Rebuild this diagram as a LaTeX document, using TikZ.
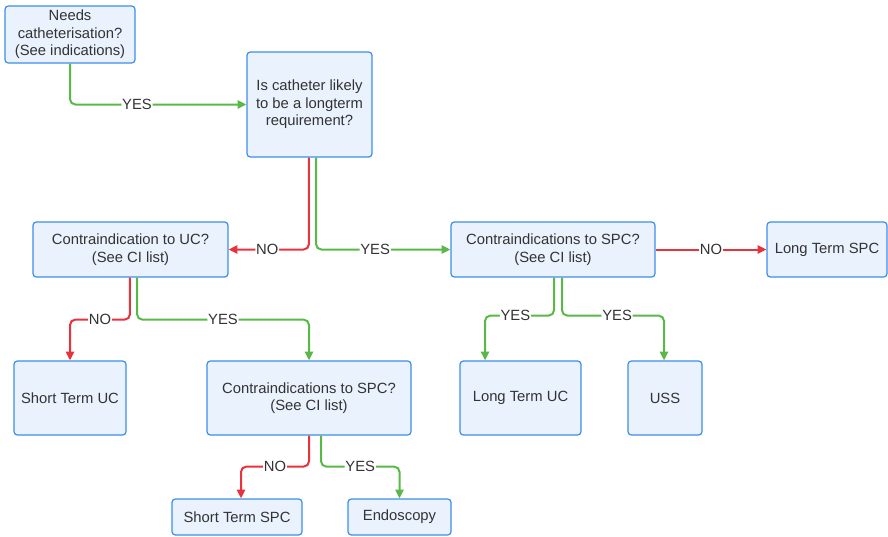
\documentclass[tikz,border=0pt]{standalone}
\usepackage{fontspec}
\setmainfont{Liberation Sans}
\usetikzlibrary{arrows.meta}
\definecolor{fillcol}{HTML}{E9F2FD}
\definecolor{bordercol}{HTML}{3D8EE8}
\definecolor{redcol}{HTML}{E8323C}
\definecolor{greencol}{HTML}{59B947}
\definecolor{textcol}{HTML}{333333}
\tikzset{
  box/.style={draw=bordercol, fill=fillcol, rounded corners=2.5pt, line width=0.9pt,
    align=center, text=textcol, font=\fontsize{11.1}{13.2}\selectfont, inner sep=0pt},
  sz/.style 2 args={minimum width=#1*0.75pt, minimum height=#2*0.75pt},
  conn/.style={line width=1.5pt, rounded corners=4pt, -{Triangle[length=6.5pt,width=6pt]}},
  noline/.style={conn, color=redcol},
  yesline/.style={conn, color=greencol},
  lbl/.style={fill=white, inner sep=0.6pt, text=textcol, font=\fontsize{11.1}{13.2}\selectfont}
}
\begin{document}
\begin{tikzpicture}[x=0.75pt,y=-0.75pt]
\useasboundingbox (0,0) rectangle (888,536);
\node[box, sz={130}{57}] (n1) at (70,34.5) {Needs\\catheterisation?\\(See indications)};
\node[box, sz={125}{105}] (n2) at (309.5,104.5) {Is catheter likely\\to be a longterm\\requirement?};
\node[box, sz={195}{55}] (n3) at (130.5,249.5) {Contraindication to UC?\\(See CI list)};
\node[box, sz={204}{55}] (n4) at (553,249.5) {Contraindications to SPC?\\(See CI list)};
\node[box, sz={120}{55}] (n5) at (827,249.5) {Long Term SPC};
\node[box, sz={112}{74}] (n6) at (70,398) {Short Term UC};
\node[box, sz={204}{74}] (n7) at (309,398) {Contraindications to SPC?\\(See CI list)};
\node[box, sz={121}{74}] (n8) at (520.5,398) {Long Term UC};
\node[box, sz={74}{74}] (n9) at (665,398) {USS};
\node[box, sz={130}{36}] (n10) at (237,517) {Short Term SPC};
\node[box, sz={103}{36}] (n11) at (399.5,517) {Endoscopy};

\draw[yesline] (n1.south) |- node[lbl, pos=0.69]{YES} (n2.west);
\draw[noline] ([xshift=-0.4pt]n2.south) |- node[lbl, pos=0.76]{NO} (n3.east);
\draw[yesline] ([xshift=4.9pt]n2.south) |- node[lbl, pos=0.72]{YES} (n4.west);
\draw[noline] (n4.east) -- node[lbl]{NO} (n5.west);
\draw[yesline] ([xshift=0.75pt]n4.south) -- ++(0,38) -| node[lbl, pos=0.28]{YES} ([xshift=-26.6pt]n8.north);
\draw[yesline] ([xshift=6.75pt]n4.south) -- ++(0,38) -| node[lbl, pos=0.27]{YES} ([xshift=-0.75pt]n9.north);
\draw[noline] ([xshift=-0.4pt]n3.south) -- ++(0,42) -| node[lbl, pos=0.25]{NO} (n6.north);
\draw[yesline] ([xshift=4.9pt]n3.south) -- ++(0,42) -| node[lbl, pos=0.25]{YES} (n7.north);
\draw[noline] (n7.south) -- ++(0,31) -| node[lbl, pos=0.25]{NO} ([xshift=3pt]n10.north);
\draw[yesline] ([xshift=9pt]n7.south) -- ++(0,31) -| node[lbl, pos=0.25]{YES} (n11.north);
\end{tikzpicture}
\end{document}
